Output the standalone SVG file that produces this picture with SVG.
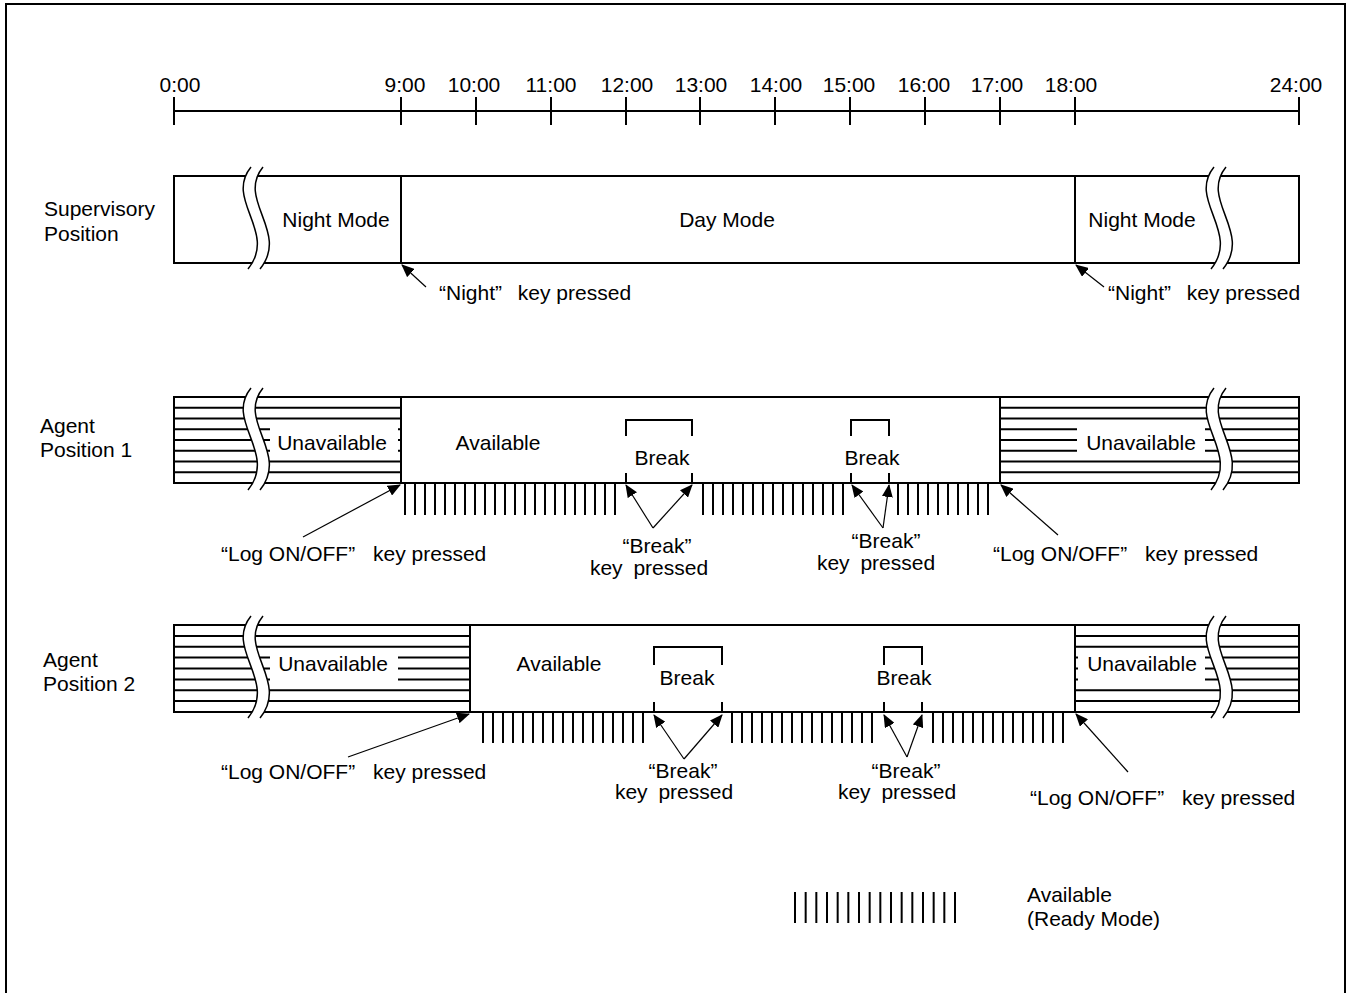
<svg xmlns="http://www.w3.org/2000/svg" xmlns:xlink="http://www.w3.org/1999/xlink" width="1350" height="993" viewBox="0 0 1350 993">
<style>
text{font-family:"Liberation Sans",Arial,sans-serif;font-size:21px;fill:#000;}
.m{text-anchor:middle;}
.thick{stroke:#000;stroke-width:2;fill:none;}
.bar{stroke:#000;stroke-width:2;fill:#fff;}
.hatch{stroke:#000;stroke-width:2;fill:none;}
.tick{stroke:#000;stroke-width:2;fill:none;}
.arr{stroke:#000;stroke-width:1.2;fill:none;marker-end:url(#ah);}
.wb{fill:#fff;stroke:none;}
</style>
<defs>
<marker id="ah" viewBox="0 0 13 11" refX="12" refY="5.5" markerWidth="13" markerHeight="11" markerUnits="userSpaceOnUse" orient="auto">
<path d="M0,0 L13,5.5 L0,11 Z" fill="#000"/>
</marker>
<g id="wave">
<path d="M251,-9 C224,24 278,56 248,93 L260,93 C290,56 236,24 263,-9 Z" fill="#fff" stroke="none"/>
<path d="M251,-9 C224,24 278,56 248,93" fill="none" stroke="#000" stroke-width="1.5"/>
<path d="M263,-9 C236,24 290,56 260,93" fill="none" stroke="#000" stroke-width="1.5"/>
</g>
</defs>
<rect x="6" y="4" width="1339" height="1000" fill="none" stroke="#000" stroke-width="2"/>

<g id="timeline">
<path class="thick" d="M174,111 H1299 M174,97 V125 M401,97 V125 M476,97 V125 M551,97 V125 M626,97 V125 M700,97 V125 M775,97 V125 M850,97 V125 M925,97 V125 M1000,97 V125 M1075,97 V125 M1299,97 V125"/>
<text class="m" x="180" y="92">0:00</text>
<text class="m" x="405" y="92">9:00</text>
<text class="m" x="474" y="92">10:00</text>
<text class="m" x="551" y="92">11:00</text>
<text class="m" x="627" y="92">12:00</text>
<text class="m" x="701" y="92">13:00</text>
<text class="m" x="776" y="92">14:00</text>
<text class="m" x="849" y="92">15:00</text>
<text class="m" x="924" y="92">16:00</text>
<text class="m" x="997" y="92">17:00</text>
<text class="m" x="1071" y="92">18:00</text>
<text class="m" x="1296" y="92">24:00</text>
</g>

<g id="supervisory">
<rect class="bar" x="174" y="176" width="1125" height="87"/>
<path class="thick" d="M401,176 V263 M1075,176 V263"/>
<use xlink:href="#wave" href="#wave" transform="translate(0,176)"/>
<use xlink:href="#wave" href="#wave" transform="translate(963,176)"/>
<text x="44" y="216">Supervisory</text>
<text x="44" y="241">Position</text>
<text class="m" x="336" y="227">Night Mode</text>
<text class="m" x="727" y="227">Day Mode</text>
<text class="m" x="1142" y="227">Night Mode</text>
</g>

<g id="agent1">
<rect class="bar" x="174" y="397" width="1125" height="86"/>
<path class="hatch" d="M174,407.75 H401 M174,418.5 H401 M174,429.25 H401 M174,440 H401 M174,450.75 H401 M174,461.5 H401 M174,472.25 H401 M1000,407.75 H1299 M1000,418.5 H1299 M1000,429.25 H1299 M1000,440 H1299 M1000,450.75 H1299 M1000,461.5 H1299 M1000,472.25 H1299"/>
<rect class="wb" x="270" y="421" width="128" height="38"/>
<rect class="wb" x="1077" y="421" width="128" height="38"/>
<path class="thick" d="M401,397 V483 M1000,397 V483"/>
<use xlink:href="#wave" href="#wave" transform="translate(0,397)"/>
<use xlink:href="#wave" href="#wave" transform="translate(963,397)"/>
<path class="thick" d="M626,436 V420 H692 V436 M626,473 V483 M692,473 V483 M851,436 V420 H889 V436 M851,473 V483 M889,473 V483"/>
<text x="40" y="433">Agent</text>
<text x="40" y="457">Position 1</text>
<text class="m" x="332" y="450">Unavailable</text>
<text class="m" x="498" y="450">Available</text>
<text class="m" x="662" y="465">Break</text>
<text class="m" x="872" y="465">Break</text>
<text class="m" x="1141" y="450">Unavailable</text>
<path class="tick" d="M405,483V515M415,483V515M425,483V515M435,483V515M445,483V515M455,483V515M465,483V515M475,483V515M485,483V515M495,483V515M505,483V515M515,483V515M525,483V515M535,483V515M545,483V515M555,483V515M565,483V515M575,483V515M585,483V515M595,483V515M605,483V515M615,483V515 M703,483V515M713,483V515M723,483V515M733,483V515M743,483V515M753,483V515M763,483V515M773,483V515M783,483V515M793,483V515M803,483V515M813,483V515M823,483V515M833,483V515M843,483V515 M898,483V515M908,483V515M918,483V515M928,483V515M938,483V515M948,483V515M958,483V515M968,483V515M978,483V515M988,483V515"/>
<text x="221" y="561">“Log ON/OFF”<tspan dx="12"> key pressed</tspan></text>
<text class="m" x="657" y="553">“Break”</text>
<text class="m" x="649" y="575">key<tspan dx="5"> pressed</tspan></text>
<text class="m" x="886" y="548">“Break”</text>
<text class="m" x="876" y="570">key<tspan dx="5"> pressed</tspan></text>
<text x="993" y="561">“Log ON/OFF”<tspan dx="12"> key pressed</tspan></text>
</g>

<g id="agent2">
<rect class="bar" x="174" y="625" width="1125" height="87"/>
<path class="hatch" d="M174,635.9 H470 M174,646.75 H470 M174,657.6 H470 M174,668.5 H470 M174,679.4 H470 M174,690.25 H470 M174,701.1 H470 M1075,635.9 H1299 M1075,646.75 H1299 M1075,657.6 H1299 M1075,668.5 H1299 M1075,679.4 H1299 M1075,690.25 H1299 M1075,701.1 H1299"/>
<rect class="wb" x="270" y="650" width="128" height="37"/>
<rect class="wb" x="1078" y="650" width="127" height="37"/>
<path class="thick" d="M470,625 V712 M1075,625 V712"/>
<use xlink:href="#wave" href="#wave" transform="translate(0,625)"/>
<use xlink:href="#wave" href="#wave" transform="translate(963,625)"/>
<path class="thick" d="M654,665 V647 H722 V665 M654,702 V712 M722,702 V712 M884,665 V647 H922 V665 M884,702 V712 M922,702 V712"/>
<text x="43" y="667">Agent</text>
<text x="43" y="691">Position 2</text>
<text class="m" x="333" y="671">Unavailable</text>
<text class="m" x="559" y="671">Available</text>
<text class="m" x="687" y="685">Break</text>
<text class="m" x="904" y="685">Break</text>
<text class="m" x="1142" y="671">Unavailable</text>
<path class="tick" d="M483,712V743M493,712V743M503,712V743M513,712V743M523,712V743M533,712V743M543,712V743M553,712V743M563,712V743M573,712V743M583,712V743M593,712V743M603,712V743M613,712V743M623,712V743M633,712V743M643,712V743 M732,712V743M742,712V743M752,712V743M762,712V743M772,712V743M782,712V743M792,712V743M802,712V743M812,712V743M822,712V743M832,712V743M842,712V743M852,712V743M862,712V743M872,712V743 M933,712V743M943,712V743M953,712V743M963,712V743M973,712V743M983,712V743M993,712V743M1003,712V743M1013,712V743M1023,712V743M1033,712V743M1043,712V743M1053,712V743M1063,712V743"/>
<text x="221" y="779">“Log ON/OFF”<tspan dx="12"> key pressed</tspan></text>
<text class="m" x="683" y="778">“Break”</text>
<text class="m" x="674" y="799">key<tspan dx="5"> pressed</tspan></text>
<text class="m" x="906" y="778">“Break”</text>
<text class="m" x="897" y="799">key<tspan dx="5"> pressed</tspan></text>
<text x="1030" y="805">“Log ON/OFF”<tspan dx="12"> key pressed</tspan></text>
</g>

<g id="labels-night">
<text x="439" y="300">“Night”<tspan dx="10"> key pressed</tspan></text>
<text x="1108" y="300">“Night”<tspan dx="10"> key pressed</tspan></text>
</g>

<g id="legend">
<path class="tick" d="M795,892V923M805.67,892V923M816.33,892V923M827,892V923M837.67,892V923M848.33,892V923M859,892V923M869.67,892V923M880.33,892V923M891,892V923M901.67,892V923M912.33,892V923M923,892V923M933.67,892V923M944.33,892V923M955,892V923"/>
<text x="1027" y="902">Available</text>
<text x="1027" y="926">(Ready Mode)</text>
</g>

<g id="connectors">
<path class="arr" d="M426,287 L402,265"/>
<path class="arr" d="M1104,287 L1076,265"/>
<path class="arr" d="M303,537 L400,485"/>
<path class="arr" d="M1058,535 L1001,485"/>
<path class="arr" d="M653,528 L626,485"/>
<path class="arr" d="M653,528 L692,485"/>
<path class="arr" d="M883,528 L852,485"/>
<path class="arr" d="M883,528 L889,485"/>
<path class="arr" d="M348,757 L469,714"/>
<path class="arr" d="M1128,772 L1076,714"/>
<path class="arr" d="M684,759 L654,715"/>
<path class="arr" d="M684,759 L722,715"/>
<path class="arr" d="M907,757 L884,715"/>
<path class="arr" d="M907,757 L922,715"/>
</g>
</svg>
